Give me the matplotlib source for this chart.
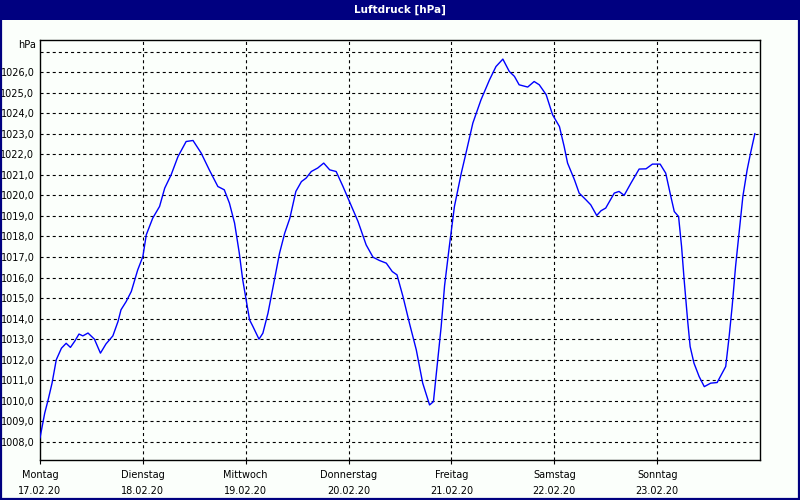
#!/usr/bin/env python
# Luftdruck chart, one week of hourly pressure
import numpy as np
import matplotlib
matplotlib.use('Agg')
import matplotlib.pyplot as plt
from matplotlib.patches import Rectangle

#data
hours = [0, 1.1, 1.9, 2.8, 3.8, 5.0, 6.1, 7.1, 8.1, 9.1, 10.0, 11.2, 12.7, 14.1,
         15.4, 17.0, 18.2, 18.9, 20.1, 21.3, 22.8, 24.0, 24.8, 26.3, 27.9, 29.1,
         30.6, 32.2, 34.1, 35.7, 37.6, 39.5, 41.5, 43.0, 44.2, 45.4, 46.5, 47.3,
         48.3, 48.9, 49.7, 51.1, 52.0, 53.2, 54.4, 55.9, 57.1, 58.3, 59.7, 61.0,
         62.1, 63.3, 64.8, 66.2, 67.6, 69.1, 70.7, 72.2, 74.2, 76.1, 77.7, 79.2,
         80.8, 82.2, 83.3, 84.7, 86.2, 87.8, 89.3, 90.9, 91.8, 92.8, 93.6, 94.4,
         95.5, 96.7, 98.3, 99.4, 101.0, 102.9, 104.9, 106.4, 108.0, 109.5, 110.7,
         111.8, 113.8, 115.3, 116.5, 118.1, 119.6, 121.2, 122.3, 123.1, 124.7,
         125.8, 127.4, 128.5, 129.9, 130.9, 132.0, 134.0, 135.1, 136.3, 137.9,
         139.8, 141.4, 142.9, 144.7, 146.0, 147.2, 148.0, 149.0, 149.7, 150.3,
         151.1, 151.7, 152.6, 153.8, 155.0, 156.5, 158.0, 160.0, 160.8, 161.5,
         162.3, 163.1, 164.0, 165.0, 165.8, 166.8]
pressure = [1008.2, 1009.4, 1010.05, 1010.85, 1012.0, 1012.56, 1012.8, 1012.6,
            1012.9, 1013.25, 1013.16, 1013.3, 1013.0, 1012.32, 1012.77, 1013.16,
            1013.86, 1014.43, 1014.83, 1015.32, 1016.37, 1017.02, 1018.08, 1018.89,
            1019.46, 1020.35, 1021.0, 1021.89, 1022.62, 1022.67, 1022.06, 1021.24,
            1020.43, 1020.27, 1019.62, 1018.65, 1017.19, 1015.89, 1014.67, 1013.94,
            1013.61, 1013.0, 1013.29, 1014.27, 1015.56, 1017.19, 1018.16, 1018.89,
            1020.19, 1020.67, 1020.84, 1021.16, 1021.33, 1021.57, 1021.24, 1021.16,
            1020.43, 1019.7, 1018.73, 1017.59, 1016.99, 1016.83, 1016.7, 1016.29,
            1016.13, 1015.07, 1013.78, 1012.48, 1010.86, 1009.8, 1009.96, 1011.99,
            1013.6, 1015.6, 1017.5, 1019.46, 1021.08, 1022.06, 1023.52, 1024.65,
            1025.63, 1026.27, 1026.63, 1026.03, 1025.79, 1025.38, 1025.27, 1025.54,
            1025.38, 1024.9, 1023.92, 1023.35, 1022.38, 1021.57, 1020.76, 1020.11,
            1019.78, 1019.54, 1019.02, 1019.25, 1019.38, 1020.11, 1020.19, 1020.0,
            1020.6, 1021.28, 1021.29, 1021.52, 1021.52, 1021.08, 1019.94, 1019.21,
            1018.97, 1017.51, 1015.89, 1013.94, 1012.64, 1011.83, 1011.18, 1010.69,
            1010.86, 1010.89, 1011.67, 1013.13, 1014.59, 1016.54, 1018.16, 1019.94,
            1021.24, 1022.06, 1023.0]
days = ['Montag', 'Dienstag', 'Mittwoch', 'Donnerstag', 'Freitag', 'Samstag', 'Sonntag']
dates = ['17.02.20', '18.02.20', '19.02.20', '20.02.20', '21.02.20', '22.02.20', '23.02.20']
ylevels = list(range(1008, 1028))
title = 'Luftdruck [hPa]'

navy = '#000080'
bg = '#fbfffb'
plt.rcParams['lines.scale_dashes'] = False
plt.rcParams['font.family'] = 'DejaVu Sans'

fig = plt.figure(figsize=(8, 5), dpi=100, facecolor=bg)
# title bar and frame
fig.patches.append(Rectangle((0, 0.96), 1, 0.04, transform=fig.transFigure,
                             facecolor=navy, edgecolor='none', zorder=0))
fig.patches.append(Rectangle((0.0015, 0.002), 0.997, 0.996, transform=fig.transFigure,
                             facecolor='none', edgecolor=navy, lw=1.6, zorder=5))
fig.text(0.5, 0.98, title, color='white', fontsize=7.5, fontweight='bold',
         ha='center', va='center')

ax = fig.add_axes([0.05, 0.08, 0.9, 0.84], facecolor=bg)
ax.plot(hours, pressure, color='#0000ff', lw=1.0, zorder=3)
ax.set_xlim(0, 168)
ax.set_ylim(1007.12, 1027.56)

# grid
for y in ylevels:
    ax.axhline(y, color='k', lw=0.8, dashes=(2.2, 2.2), zorder=1)
for i in range(1, 7):
    ax.axvline(24 * i, color='k', lw=0.8, dashes=(2.2, 2.2), zorder=1)

ax.set_yticks(ylevels[:-1])
ax.set_yticklabels([f'{y},0' for y in ylevels[:-1]], fontsize=7)
ax.tick_params(axis='y', length=0, pad=4)
ax.set_xticks([24 * i for i in range(7)])
ax.set_xticklabels([f'{d}\n{t}' for d, t in zip(days, dates)], fontsize=7,
                   linespacing=1.75)
ax.tick_params(axis='x', length=3, width=0.8, pad=4, direction='out')
ax.text(-0.006, 1.0, 'hPa', transform=ax.transAxes, fontsize=7,
        ha='right', va='top')
for s in ax.spines.values():
    s.set_linewidth(1.0)

fig.savefig('out.png', dpi=100, facecolor=bg)
